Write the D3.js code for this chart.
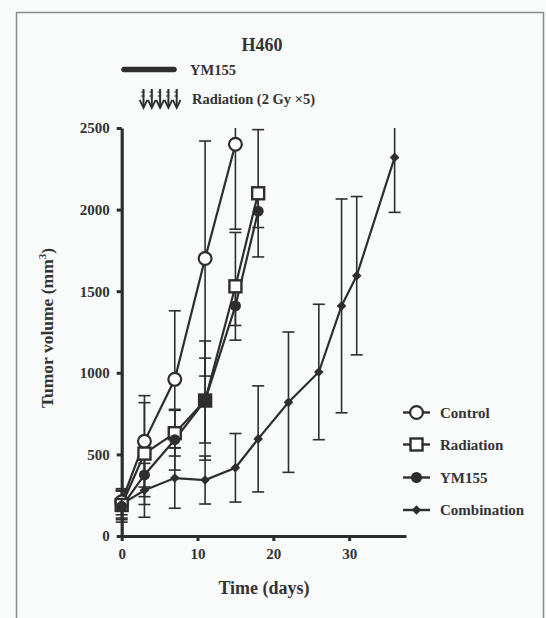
<!DOCTYPE html>
<html><head><meta charset="utf-8">
<script src="https://cdn.jsdelivr.net/npm/d3@7"></script>
<style>
html,body{margin:0;padding:0;background:#f9fafa;}
svg{display:block;}
text{font-family:"Liberation Serif","DejaVu Serif",serif;font-weight:bold;fill:#333;}
</style></head>
<body>
<svg id="c" width="546" height="618"></svg>
<script>
// ---- data ----
const xTicks = [0, 10, 20, 30];
const yTicks = [0, 500, 1000, 1500, 2000, 2500];
const controlDays = [0, 3, 7, 11, 15];
const controlVals = [210, 580, 960, 1700, 2400];
const controlErr  = [80, 280, 420, 720, 520];
const radiationDays = [0, 3, 7, 11, 15, 18];
const radiationVals = [190, 505, 630, 830, 1530, 2100];
const radiationErr  = [90, 312, 140, 260, 330, 390];
const ym155Days = [0, 3, 7, 11, 15, 18];
const ym155Vals = [180, 374, 590, 830, 1410, 1990];
const ym155Err  = [95, 133, 186, 365, 120, 100];
const comboDays = [0, 3, 7, 11, 15, 18, 22, 26, 29, 31, 36];
const comboVals = [195, 280, 355, 343, 418, 595, 820, 1005, 1410, 1595, 2320];
const comboErr  = [85, 165, 185, 147, 210, 325, 430, 415, 655, 485, 337];
const seriesNames = ["Control", "Radiation", "YM155", "Combination"];
const markerTypes = ["openCircle", "openSquare", "filledCircle", "diamond"];

const svg = d3.select("#c");
const ink = "#2e2e2e";

// frame
svg.append("path").attr("d","M16.5,618 V12.5 H543.5 V618").attr("fill","none").attr("stroke","#8a8a8a").attr("stroke-width",1.5);

const x = d3.scaleLinear().domain([0, 37.5]).range([121.7, 406]);
const y = d3.scaleLinear().domain([0, 2500]).range([536, 128]);

// axes
const yAxis = svg.append("g").attr("transform","translate(121.7,0)")
  .call(d3.axisLeft(y).tickValues(yTicks).tickFormat(d3.format("d")).tickSize(5).tickSizeOuter(0).tickPadding(7));
const xAxis = svg.append("g").attr("transform","translate(0,536)")
  .call(d3.axisBottom(x).tickValues(xTicks).tickFormat(d3.format("d")).tickSize(5).tickSizeOuter(0).tickPadding(7));
[yAxis, xAxis].forEach(g => {
  g.select(".domain").attr("stroke", ink).attr("stroke-width", 3.2);
  g.selectAll(".tick line").attr("stroke", ink).attr("stroke-width", 3);
  g.selectAll(".tick text").attr("fill","#333").style("font-size","15px")
   .style("font-family",'"Liberation Serif",serif').style("font-weight","bold");
});

const series = [
  {days: controlDays, vals: controlVals, err: controlErr},
  {days: radiationDays, vals: radiationVals, err: radiationErr},
  {days: ym155Days, vals: ym155Vals, err: ym155Err},
  {days: comboDays, vals: comboVals, err: comboErr},
];

const plot = svg.append("g");
const [y0, y1] = y.domain();
// error bars
series.forEach(s => {
  s.days.forEach((d, i) => {
    const v = s.vals[i], e = s.err[i];
    const hi = Math.min(v + e, y1), lo = Math.max(v - e, y0);
    const cx = x(d);
    plot.append("line").attr("x1",cx).attr("x2",cx).attr("y1",y(lo)).attr("y2",y(hi))
      .attr("stroke",ink).attr("stroke-width",1.6);
    [[v + e, hi], [v - e, lo]].forEach(([raw, clip]) => {
      if (raw === clip) plot.append("line").attr("x1",cx-6).attr("x2",cx+6)
        .attr("y1",y(clip)).attr("y2",y(clip)).attr("stroke",ink).attr("stroke-width",1.6);
    });
  });
});
// lines
const line = d3.line().x(p => x(p[0])).y(p => y(p[1]));
series.forEach(s => {
  plot.append("path").datum(s.days.map((d,i)=>[d, s.vals[i]]))
    .attr("d", line).attr("fill","none").attr("stroke",ink).attr("stroke-width",2.2);
});

function marker(g, type, cx, cy) {
  if (type === "openCircle") g.append("circle").attr("cx",cx).attr("cy",cy).attr("r",6.4)
      .attr("fill","#fff").attr("stroke",ink).attr("stroke-width",2.2);
  else if (type === "openSquare") g.append("rect").attr("x",cx-6).attr("y",cy-6).attr("width",12).attr("height",12)
      .attr("fill","#fff").attr("stroke",ink).attr("stroke-width",2.4);
  else if (type === "filledCircle") g.append("circle").attr("cx",cx).attr("cy",cy).attr("r",5.5).attr("fill",ink);
  else g.append("path").attr("d",`M${cx},${cy-4.8}L${cx+4.8},${cy}L${cx},${cy+4.8}L${cx-4.8},${cy}Z`).attr("fill",ink);
}
[0, 1, 2, 3].forEach(k => {
  const s = series[k];
  s.days.forEach((d, i) => marker(plot, markerTypes[k], x(d), y(s.vals[i])));
});
// day-11 overlap of radiation square and YM155 circle appears as a filled square
plot.append("rect").attr("x", x(11)-6.5).attr("y", y(radiationVals[3])-6.5).attr("width",13).attr("height",13).attr("fill",ink);

// title
svg.append("text").attr("x",262).attr("y",51).attr("text-anchor","middle").style("font-size","18px").text("H460");
// treatment legend
svg.append("line").attr("x1",124).attr("x2",174).attr("y1",69.5).attr("y2",69.5)
  .attr("stroke",ink).attr("stroke-width",5.5).attr("stroke-linecap","round");
svg.append("text").attr("x",190).attr("y",75).style("font-size","14.5px").text("YM155");
const arrows = svg.append("g");
for (let i = 0; i < 5; i++) {
  const ax = 143.5 + i * 8.3;
  arrows.append("line").attr("x1",ax).attr("x2",ax).attr("y1",89).attr("y2",107).attr("stroke",ink).attr("stroke-width",2);
  arrows.append("path").attr("d",`M${ax-3.8},${100}L${ax},${108}L${ax+3.8},${100}`).attr("fill","none").attr("stroke",ink).attr("stroke-width",1.8);
}
[92, 96].forEach(hy => arrows.append("line").attr("x1",140).attr("x2",181).attr("y1",hy).attr("y2",hy)
  .attr("stroke",ink).attr("stroke-width",1.2).attr("stroke-dasharray","3.5,4.8").attr("stroke-dashoffset",-1));
svg.append("text").attr("x",192).attr("y",104).style("font-size","14.5px").text("Radiation (2 Gy \u00d75)");

// series legend
const legY = [412.5, 444.5, 477.5, 510];
seriesNames.forEach((name, k) => {
  const g = svg.append("g");
  g.append("line").attr("x1",403).attr("x2",430).attr("y1",legY[k]).attr("y2",legY[k]).attr("stroke",ink).attr("stroke-width",2.4);
  marker(g, markerTypes[k], 416.5, legY[k]);
  g.append("text").attr("x",440).attr("y",legY[k]+5).style("font-size","15px").text(name);
});

// axis titles
svg.append("text").attr("x",264).attr("y",594).attr("text-anchor","middle").style("font-size","18px").text("Time (days)");
svg.append("text").attr("transform","translate(53,328) rotate(-90)").attr("text-anchor","middle").style("font-size","17.5px")
  .html('Tumor volume (mm<tspan dy="-7" style="font-size:11px">3</tspan><tspan dy="7">)</tspan>');
</script>
</body></html>
